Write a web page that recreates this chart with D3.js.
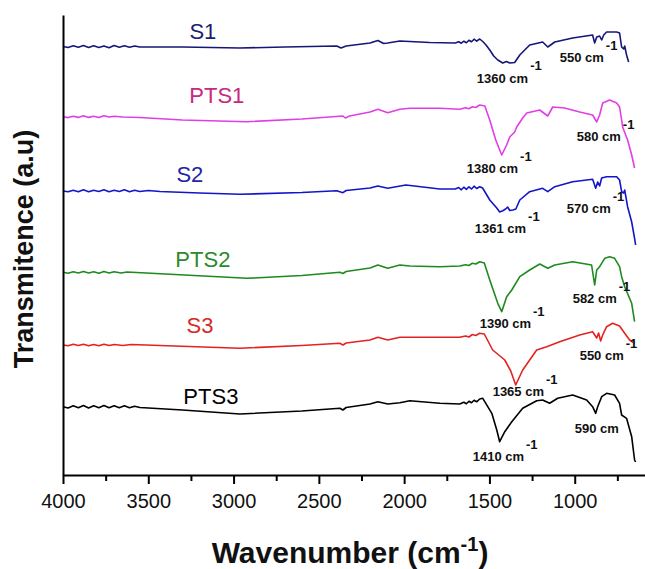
<!DOCTYPE html>
<html>
<head>
<meta charset="utf-8">
<script src="https://cdn.jsdelivr.net/npm/d3@7"></script>
<style>
  body { margin: 0; background: #fff; }
  svg { display: block; font-family: "Liberation Sans", Arial, sans-serif; }
</style>
</head>
<body>
<svg id="chart" width="645" height="569"></svg>
<script>
// tick labels on the wavenumber axis
const majorTicks = [4000, 3500, 3000, 2500, 2000, 1500, 1000];
const minorTicks = [3750, 3250, 2750, 2250, 1750, 1250, 750];

// spectra: [wavenumber, transmittance (a.u., stacked)]
const s1 = [[4000,42.85],[3970,42.75],[3940,42.92],[3910,42.78],[3880,42.95],[3850,42.75],[3820,42.92],[3790,42.75],[3760,42.9],[3730,42.72],[3700,42.95],[3670,42.78],[3640,42.92],[3610,42.78],[3580,42.9],[3550,42.8],[3300,42.8],[2963,42.7],[2700,42.8],[2395,42.9],[2370,42.7],[2340,42.9],[2200,43.2],[2154,43.45],[2120,43.15],[2096,43.2],[2025,43.4],[1967,43.35],[1850,43.25],[1700,43.2],[1680,43.32],[1665,43.18],[1650,43.38],[1635,43.22],[1620,43.48],[1605,43.32],[1590,43.58],[1575,43.38],[1557,43.6],[1539,43.35],[1520,43.0],[1498,42.5],[1475,41.9],[1451,41.5],[1422,41.2],[1400,41.35],[1381,41.2],[1352,41.25],[1322,42.0],[1264,43.0],[1188,43.3],[1158,42.8],[1117,43.3],[1012,43.7],[895,44.0],[883,43.2],[871,43.8],[854,43.9],[842,43.5],[830,44.0],[813,44.3],[754,44.3],[737,44.2],[725,42.8],[713,42.6],[707,42.9],[696,42.0],[684,41.3]];
const pts1 = [[4000,35.83],[3970,35.74],[3940,35.88],[3910,35.76],[3880,35.92],[3850,35.76],[3820,35.88],[3790,35.74],[3760,35.92],[3730,35.8],[3700,35.88],[3650,35.8],[3550,35.75],[3300,35.5],[2922,35.33],[2600,35.6],[2359,35.9],[2345,35.7],[2320,35.9],[2200,36.3],[2154,36.57],[2096,36.23],[2025,36.57],[1967,36.67],[1791,36.67],[1674,36.57],[1640,36.72],[1620,36.62],[1600,36.82],[1580,36.75],[1557,37.0],[1527,36.9],[1498,35.5],[1463,33.5],[1428,32.0],[1399,33.0],[1381,33.8],[1352,34.3],[1340,34.8],[1305,35.7],[1281,36.2],[1205,36.5],[1158,35.9],[1129,36.8],[1059,36.7],[971,36.3],[895,36.0],[871,35.3],[854,36.0],[836,37.2],[795,37.5],[754,37.2],[737,36.8],[725,35.5],[719,34.8],[690,33.5],[666,32.0],[649,30.7]];
const s2 = [[4000,28.4],[3970,28.32],[3940,28.48],[3910,28.32],[3880,28.52],[3850,28.32],[3820,28.48],[3790,28.35],[3760,28.52],[3730,28.33],[3700,28.48],[3670,28.35],[3640,28.52],[3610,28.33],[3580,28.48],[3550,28.35],[3500,28.45],[3432,28.35],[3200,28.2],[2963,28.07],[2600,28.25],[2395,28.43],[2359,28.23],[2340,28.45],[2200,28.7],[2154,28.9],[2096,28.67],[1990,29.0],[1791,28.6],[1700,28.6],[1680,28.75],[1665,28.52],[1650,28.78],[1635,28.56],[1620,28.82],[1605,28.6],[1590,28.88],[1575,28.65],[1557,28.83],[1540,28.7],[1498,27.5],[1457,26.7],[1440,26.3],[1422,26.43],[1405,26.6],[1393,26.8],[1381,26.45],[1363,26.5],[1345,26.6],[1322,27.5],[1264,28.33],[1188,28.67],[1158,28.33],[1117,28.83],[1012,29.33],[895,29.57],[877,28.67],[865,29.3],[854,28.9],[842,29.7],[813,29.83],[754,29.83],[737,29.5],[725,28.33],[713,28.2],[707,28.5],[690,26.83],[666,25.3],[649,23.67],[643,23.0]];
const pts2 = [[4000,20.27],[3970,20.18],[3940,20.33],[3910,20.2],[3880,20.36],[3850,20.2],[3820,20.33],[3790,20.18],[3760,20.36],[3730,20.2],[3700,20.33],[3660,20.2],[3625,20.3],[3400,20.1],[2922,19.67],[2600,19.95],[2377,20.27],[2359,20.15],[2340,20.35],[2200,20.7],[2154,21.0],[2096,20.67],[2025,21.0],[1967,20.9],[1791,20.83],[1674,20.9],[1640,21.03],[1620,20.95],[1600,21.18],[1580,21.1],[1557,21.33],[1530,21.2],[1498,19.5],[1451,17.17],[1428,16.33],[1399,17.83],[1369,18.5],[1322,19.83],[1264,20.5],[1205,21.1],[1158,20.67],[1117,21.0],[1012,21.33],[901,21.0],[883,19.0],[871,20.5],[854,20.83],[824,21.67],[795,21.83],[766,21.67],[737,20.83],[725,19.83],[707,18.83],[666,17.17],[649,15.33]];
const s3 = [[4000,13.0],[3970,12.92],[3940,13.08],[3910,12.95],[3880,13.08],[3850,12.92],[3820,13.05],[3790,12.92],[3760,13.08],[3730,12.95],[3700,13.05],[3650,12.95],[3600,13.05],[3432,12.95],[2963,12.67],[2600,12.95],[2377,13.17],[2359,13.0],[2340,13.2],[2200,13.5],[2154,13.77],[2096,13.5],[2025,13.77],[1674,13.77],[1640,13.9],[1620,13.8],[1600,14.05],[1580,13.95],[1557,14.17],[1530,14.1],[1481,12.5],[1410,11.5],[1375,10.4],[1346,9.0],[1305,10.5],[1264,11.5],[1223,12.5],[1164,12.83],[1088,13.33],[971,14.0],[895,14.33],[871,13.7],[860,14.2],[848,13.4],[836,14.0],[813,14.83],[778,15.17],[737,14.9],[707,14.17],[678,13.5],[649,13.17]];
const pts3 = [[4000,6.83],[3970,6.7],[3940,6.92],[3910,6.72],[3880,6.95],[3850,6.7],[3820,6.92],[3790,6.72],[3760,6.95],[3730,6.72],[3700,6.92],[3670,6.72],[3640,6.92],[3610,6.72],[3580,6.88],[3549,6.75],[3300,6.5],[2963,6.1],[2600,6.4],[2377,6.67],[2359,6.5],[2340,6.75],[2200,7.1],[2154,7.33],[2096,7.1],[2025,7.23],[1967,7.43],[1791,7.17],[1674,7.1],[1650,7.28],[1635,7.12],[1620,7.38],[1605,7.22],[1590,7.48],[1575,7.32],[1557,7.6],[1539,7.67],[1486,6.17],[1457,4.5],[1440,3.33],[1410,4.33],[1369,5.33],[1305,6.67],[1223,7.43],[1188,7.5],[1147,7.17],[1100,7.67],[1012,8.0],[930,7.5],[895,6.83],[877,6.17],[866,6.8],[842,7.83],[813,8.17],[766,8.0],[737,7.17],[725,6.0],[696,5.67],[666,3.83],[649,1.5],[643,1.3]];

const seriesNames = ["S1", "PTS1", "S2", "PTS2", "S3", "PTS3"];
const seriesData = [s1, pts1, s2, pts2, s3, pts3];
const lineColors = ["#161679", "#e23ee6", "#1414c8", "#1f8a1f", "#e32222", "#000000"];
const labelColors = ["#1e1e70", "#c8287e", "#2323a6", "#2b8a2b", "#d42a2a", "#000000"];
// name label anchors [wavenumber, value]
const nameAnchors = [[3180, 43.6], [3098, 37.2], [3256, 29.3], [3180, 20.8], [3197, 14.2], [3133, 7.1]];

// peak annotations: text, [wavenumber, value] of left edge / baseline, superscript shown
const peakText = ["1360 cm", "550 cm", "1380 cm", "580 cm", "1361 cm", "570 cm", "1390 cm", "582 cm", "550 cm", "1365 cm", "1410 cm", "590 cm"];
const peakAnchors = [[1574, 39.25], [1088, 41.3], [1633, 30.2], [988, 33.4], [1586, 24.2], [1047, 26.2], [1557, 14.7], [1012, 17.2], [971, 11.5], [1481, 7.9], [1598, 1.4], [1000, 4.2]];
const peakSup = [true, true, true, true, true, true, true, true, true, true, true, false];

const svg = d3.select("#chart");
const plotLeft = 63, plotTop = 15, plotBottom = 475;

const x = d3.scaleLinear().domain([4000, 500]).range([plotLeft, 660]);
const y = d3.scaleLinear().domain([0, 46]).range([plotBottom, plotTop]);

// spectra
const line = d3.line().x(d => x(d[0])).y(d => y(d[1]));
svg.selectAll("path.spec")
  .data(seriesData)
  .join("path")
  .attr("class", "spec")
  .attr("d", line)
  .attr("fill", "none")
  .attr("stroke", (d, i) => lineColors[i])
  .attr("stroke-width", 1.6)
  .attr("stroke-linejoin", "round");

// x axis
const xAxis = svg.append("g").attr("transform", `translate(0,${plotBottom})`)
  .call(d3.axisBottom(x).tickValues(majorTicks).tickSize(9).tickSizeOuter(0).tickPadding(10).tickFormat(d3.format("d")));
xAxis.select(".domain").attr("stroke-width", 2);
xAxis.selectAll(".tick line").attr("stroke-width", 2);
xAxis.selectAll(".tick text").attr("font-size", 20).attr("font-family", "Liberation Sans, Arial, sans-serif").attr("fill", "#111");

svg.append("g").attr("transform", `translate(0,${plotBottom})`)
  .call(d3.axisBottom(x).tickValues(minorTicks).tickSize(6).tickFormat(""))
  .call(g => g.select(".domain").remove())
  .selectAll(".tick line").attr("stroke-width", 2);

// y axis (no ticks)
const yAxis = svg.append("g").attr("transform", `translate(${plotLeft},0)`)
  .call(d3.axisLeft(y).tickValues([]).tickSizeOuter(0));
yAxis.select(".domain").attr("stroke-width", 2);

// series names
svg.selectAll("text.name")
  .data(seriesNames)
  .join("text")
  .attr("class", "name")
  .attr("x", (d, i) => x(nameAnchors[i][0]))
  .attr("y", (d, i) => y(nameAnchors[i][1]))
  .attr("text-anchor", "middle")
  .attr("font-size", 22)
  .attr("fill", (d, i) => labelColors[i])
  .text(d => d);

// peak labels
const peaks = svg.selectAll("text.peak")
  .data(peakText)
  .join("text")
  .attr("class", "peak")
  .attr("x", (d, i) => x(peakAnchors[i][0]))
  .attr("y", (d, i) => y(peakAnchors[i][1]))
  .attr("font-size", 13)
  .attr("font-weight", "bold")
  .attr("fill", "#111");
peaks.append("tspan").text(d => d);
peaks.filter((d, i) => peakSup[i])
  .append("tspan").attr("dx", 2).attr("dy", -12.5).text("-1");

// axis titles
const xt = svg.append("text")
  .attr("x", 350).attr("y", 563)
  .attr("text-anchor", "middle")
  .attr("font-size", 30).attr("font-weight", "bold").attr("fill", "#111");
xt.append("tspan").text("Wavenumber (cm");
xt.append("tspan").attr("font-size", 20).attr("dy", -12).text("-1");
xt.append("tspan").attr("dy", 12).text(")");

svg.append("text")
  .attr("transform", "translate(33,249) rotate(-90)")
  .attr("text-anchor", "middle")
  .attr("font-size", 27).attr("font-weight", "bold").attr("fill", "#111")
  .text("Transmitence (a.u)");
</script>
</body>
</html>
